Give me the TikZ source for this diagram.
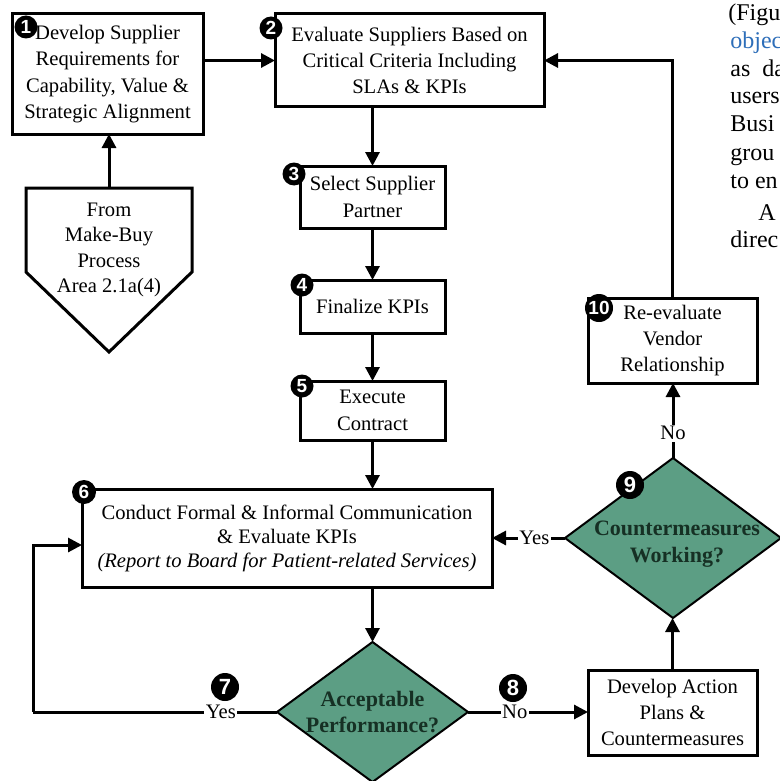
\documentclass[tikz,border=0pt]{standalone}
\usepackage{fontspec}
\setmainfont{Liberation Serif}
\newfontfamily\badgefont{Liberation Sans}
\usetikzlibrary{shapes.geometric,arrows.meta}

\definecolor{decisionfill}{RGB}{92,158,132}
\definecolor{decisiontext}{RGB}{22,48,36}
\definecolor{linkblue}{RGB}{45,110,185}

\begin{document}
\begin{tikzpicture}[x=0.5pt,y=-0.5pt,
  stepbox/.style={draw=black, line width=1.5pt, fill=white, align=center,
    inner sep=0pt, outer sep=0pt, font=\fontsize{10.3}{13.2}\selectfont},
  decision/.style={diamond, draw=black, line width=1pt, fill=decisionfill,
    inner sep=0pt, outer sep=0pt},
  decisionlabel/.style={align=center, text=decisiontext, inner sep=0pt,
    font=\fontsize{11}{13.2}\selectfont\bfseries},
  badge/.style={circle, fill=black, text=white, inner sep=0pt,
    minimum size=11.5pt, font=\badgefont\fontsize{9.5}{10}\selectfont\bfseries},
  bigbadge/.style={badge, minimum size=14pt, font=\badgefont\fontsize{11}{11}\selectfont\bfseries},
  conn/.style={line width=1.5pt},
  arr/.style={conn, -{Triangle[length=7pt,width=7pt]}},
  lbl/.style={fill=white, inner sep=0.8pt, font=\fontsize{10.3}{12}\selectfont},
  pagetext/.style={anchor=base west, inner sep=0pt, font=\fontsize{12}{14}\selectfont},
]
\useasboundingbox (0,0) rectangle (780,781);
\clip (0,0) rectangle (780,781);
\fill[white] (0,0) rectangle (780,781);

% process steps
\node[stepbox, minimum width=95.5pt, minimum height=60pt] (b1) at (107.5,74)
  {Develop Supplier\\Requirements for\\Capability, Value \&\\Strategic Alignment};
\node[stepbox, minimum width=134.5pt, minimum height=46.5pt] (b2) at (409.5,60.5)
  {Evaluate Suppliers Based on\\Critical Criteria Including\\SLAs \& KPIs};
\node[stepbox, minimum width=72.5pt, minimum height=31pt] (b3) at (372.5,197)
  {Select Supplier\\Partner};
\node[stepbox, minimum width=72.5pt, minimum height=26.5pt] (b4) at (372.5,306.5)
  {Finalize KPIs};
\node[stepbox, minimum width=72.5pt, minimum height=29.5pt] (b5) at (372.5,410.5)
  {Execute\\Contract};
\node[stepbox, minimum width=205pt, minimum height=49pt,
  font=\fontsize{10.3}{12}\selectfont] (b6) at (287,538)
  {Conduct Formal \& Informal Communication\\\& Evaluate KPIs\\
   \textit{(Report to Board for Patient-related Services)}};
\node[stepbox, minimum width=84.5pt, minimum height=42.5pt] (b8) at (672.5,712.5)
  {Develop Action\\Plans \&\\Countermeasures};
\node[stepbox, minimum width=84.5pt, minimum height=42.5pt] (b10) at (672.5,340.5)
  {Re-evaluate\\Vendor\\Relationship};

% off-page input from the make-buy process
\draw[line width=1.5pt, fill=white, line join=miter]
  (26,188) -- (192,188) -- (192,272) -- (109,352) -- (26,272) -- cycle;
\coordinate (penttop) at (109,188);
\node[align=center, inner sep=0pt, font=\fontsize{10.3}{12.7}\selectfont] (pent) at (109,250)
  {From\\Make-Buy\\Process\\Area 2.1a(4)};

% decisions
\node[decision, minimum width=95.5pt, minimum height=70pt] (d7) at (372.5,712) {};
\node[decisionlabel] at (372.5,712) {Acceptable\\Performance?};
\node[decision, minimum width=108pt, minimum height=80pt] (d9) at (673,538) {};
\node[decisionlabel] at (677,544) {Countermeasures\\Working?};

% connectors
\draw[arr] (penttop) -- (penttop |- b1.south);
\draw[arr] (b1.east |- b2.west) -- (b2.west);
\draw[arr] (b3.north |- b2.south) -- (b3.north);
\draw[arr] (b3.south) -- (b4.north);
\draw[arr] (b4.south) -- (b5.north);
\draw[arr] (b5.south) -- (b5.south |- b6.north);
\draw[arr] (d7.north |- b6.south) -- (d7.north);
\coordinate (loopL) at (33,712);
\draw[conn] (d7.west) -- node[lbl, pos=0.23] (yes7) {Yes} (loopL);
\draw[arr] (loopL) |- ([yshift=-3.5pt]b6.west);
\draw[arr] (d7.east) -- node[lbl, pos=0.39] (no8) {No} (d7.east -| b8.west);
\draw[arr] (b8.north) -- (b8.north |- d9.south);
\draw[arr] (d9.north) -- node[lbl, pos=0.33] (no9) {No} (d9.north |- b10.south);
\draw[arr] (d9.west) -- node[lbl, pos=0.42] (yes9) {Yes} (d9.west -| b6.east);
\draw[arr] (b10.north) |- (b2.east);

% step numbers
\node[badge] (n1) at (26,27) {1};
\node[badge] (n2) at (271,28) {2};
\node[badge] (n3) at (294,174) {3};
\node[badge] (n4) at (302,285) {4};
\node[badge] (n5) at (302,386) {5};
\node[badge, minimum size=12pt] (n6) at (84,492) {6};
\node[bigbadge] (n7) at (225,687) {7};
\node[bigbadge] (n8) at (513,688) {8};
\node[bigbadge] (n9) at (630,485) {9};
\node[bigbadge, font=\badgefont\fontsize{9.5}{10}\selectfont\bfseries] (n10) at (599,308) {10};

% surrounding page text
\node[pagetext] (t1) at (728,21) {(Figu};
\node[pagetext, text=linkblue] (t2) at (730,49) {objec};
\node[pagetext] (t3) at (730,77) {as\hspace{6pt}da};
\node[pagetext] (t4) at (730,104) {users};
\node[pagetext] (t5) at (730,132) {Busi};
\node[pagetext] (t6) at (730,160) {grou};
\node[pagetext] (t7) at (730,188) {to en};
\node[pagetext] (t8) at (758,220) {A};
\node[pagetext] (t9) at (730,247) {direc};
\end{tikzpicture}
\end{document}
